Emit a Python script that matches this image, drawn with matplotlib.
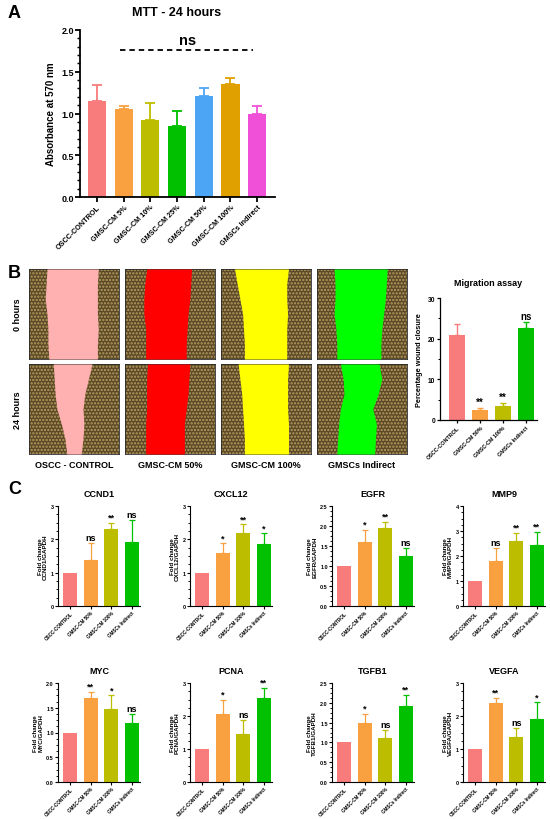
import numpy as np
import matplotlib
matplotlib.use('Agg')
import matplotlib.pyplot as plt
from matplotlib.patches import Rectangle
from matplotlib.ticker import AutoMinorLocator, FormatStrFormatter

plt.rcParams['font.family'] = ['Liberation Sans', 'DejaVu Sans']
plt.rcParams['font.weight'] = 'bold'
plt.rcParams['axes.labelweight'] = 'bold'
plt.rcParams['axes.titleweight'] = 'bold'
plt.rcParams['hatch.linewidth'] = 1.1

# ---- panel A : MTT
mtt_groups = ['OSCC-CONTROL', 'GMSC-CM 5%', 'GMSC-CM 10%', 'GMSC-CM 25%',
              'GMSC-CM 50%', 'GMSC-CM 100%', 'GMSCs Indirect']
mtt_mean = [1.15, 1.05, 0.92, 0.85, 1.21, 1.35, 1.00]
mtt_sd = [0.19, 0.04, 0.20, 0.18, 0.10, 0.08, 0.09]
mtt_colors = ['#F87C7C', '#F9A040', '#BDBD00', '#00C000', '#4DA6F5', '#E0A000', '#F050D8']

# ---- panel B : scratch images + migration
img_cols = ['OSCC - CONTROL', 'GMSC-CM 50%', 'GMSC-CM 100%', 'GMSCs Indirect']
img_rows = ['0 hours', '24 hours']
wound_colors = ['#FFB0B0', '#FF0000', '#FFFF00', '#00FF00']
# wound edges as fraction of image width, sampled top -> bottom
wound_left = [
    [[0.20, 0.19, 0.18, 0.20, 0.21, 0.21, 0.22],
     [0.24, 0.22, 0.21, 0.21, 0.23, 0.23, 0.23],
     [0.15, 0.18, 0.21, 0.24, 0.25, 0.26, 0.26],
     [0.19, 0.20, 0.20, 0.19, 0.21, 0.22, 0.22]],
    [[0.27, 0.28, 0.29, 0.31, 0.36, 0.40, 0.42],
     [0.25, 0.24, 0.24, 0.24, 0.23, 0.23, 0.23],
     [0.19, 0.21, 0.23, 0.24, 0.25, 0.26, 0.26],
     [0.26, 0.29, 0.30, 0.26, 0.24, 0.23, 0.22]],
]
wound_right = [
    [[0.77, 0.76, 0.76, 0.76, 0.77, 0.76, 0.76],
     [0.74, 0.73, 0.72, 0.70, 0.69, 0.68, 0.68],
     [0.75, 0.73, 0.73, 0.74, 0.73, 0.73, 0.73],
     [0.78, 0.77, 0.76, 0.74, 0.72, 0.71, 0.71]],
    [[0.70, 0.66, 0.62, 0.60, 0.61, 0.60, 0.58],
     [0.72, 0.71, 0.70, 0.68, 0.66, 0.66, 0.66],
     [0.75, 0.74, 0.74, 0.74, 0.75, 0.75, 0.75],
     [0.69, 0.72, 0.68, 0.62, 0.66, 0.65, 0.64]],
]

mig_groups = ['OSCC-CONTROL', 'GMSC-CM 50%', 'GMSC-CM 100%', 'GMSCs Indirect']
mig_mean = [21.0, 2.4, 3.5, 22.6]
mig_sd = [2.5, 0.6, 0.7, 1.6]
mig_sig = ['', '**', '**', 'ns']
four_colors = ['#F87C7C', '#F9A040', '#BDBD00', '#00C000']

# ---- panel C : qPCR
genes = ['CCND1', 'CXCL12', 'EGFR', 'MMP9', 'MYC', 'PCNA', 'TGFB1', 'VEGFA']
gene_mean = [[1.0, 1.38, 2.30, 1.92],
             [1.0, 1.60, 2.20, 1.85],
             [1.0, 1.60, 1.95, 1.25],
             [1.0, 1.80, 2.60, 2.45],
             [1.0, 1.70, 1.48, 1.20],
             [1.0, 2.05, 1.45, 2.55],
             [1.0, 1.48, 1.10, 1.92],
             [1.0, 2.40, 1.35, 1.90]]
gene_sd = [[0.0, 0.52, 0.20, 0.66],
           [0.0, 0.28, 0.25, 0.33],
           [0.0, 0.30, 0.15, 0.20],
           [0.0, 0.52, 0.32, 0.52],
           [0.0, 0.12, 0.27, 0.18],
           [0.0, 0.45, 0.43, 0.30],
           [0.0, 0.24, 0.22, 0.28],
           [0.0, 0.15, 0.30, 0.52]]
gene_sig = [['', 'ns', '**', 'ns'],
            ['', '*', '**', '*'],
            ['', '*', '**', 'ns'],
            ['', 'ns', '**', '**'],
            ['', '**', '*', 'ns'],
            ['', '*', 'ns', '**'],
            ['', '*', 'ns', '**'],
            ['', '**', 'ns', '*']]
gene_ymax = [3, 3, 2.5, 4, 2.0, 3, 2.5, 3]
gene_ystep = [1, 1, 0.5, 1, 0.5, 1, 0.5, 1]

W, H = 550, 820
fig = plt.figure(figsize=(W / 100, H / 100), dpi=100)


def box(l, t, r, b):
    return [l / W, 1 - b / H, (r - l) / W, (b - t) / H]


def style_bar_axes(ax, lw, tick_len, label_size):
    for s in ['top', 'right']:
        ax.spines[s].set_visible(False)
    ax.spines['left'].set_linewidth(lw)
    ax.spines['bottom'].set_linewidth(lw)
    ax.tick_params(width=lw, length=tick_len, labelsize=label_size, pad=1)
    ax.tick_params(which='minor', width=lw * 0.8, length=tick_len * 0.55)
    ax.yaxis.set_minor_locator(AutoMinorLocator(5))


def draw_bars(ax, means, sds, colors, width, elw, cap):
    x = np.arange(len(means))
    ax.bar(x, means, width=width, color=colors, zorder=2)
    for i in range(len(means)):
        if sds[i] > 0:
            ax.errorbar(x[i], means[i], yerr=[[0], [sds[i]]], fmt='none',
                        ecolor=colors[i], elinewidth=elw, capsize=cap,
                        capthick=elw, zorder=1)
    return x


# ================= A
fig.text(8 / W, 1 - 14 / H, 'A', fontsize=13, fontweight='bold', va='center')
fig.text(177 / W, 1 - 13 / H, 'MTT - 24 hours', fontsize=9, ha='center', va='center')
axA = fig.add_axes(box(80, 31, 275, 198))
x = draw_bars(axA, mtt_mean, mtt_sd, mtt_colors, 0.68, 1.3, 3.5)
axA.set_xlim(-0.64, 6.67)
axA.set_ylim(0, 2.0)
axA.set_yticks(np.arange(0, 2.01, 0.5))
axA.yaxis.set_major_formatter(FormatStrFormatter('%.1f'))
style_bar_axes(axA, 1.3, 3.5, 6.5)
axA.set_xticks(x)
axA.set_xticklabels(mtt_groups, rotation=45, ha='right', rotation_mode='anchor', fontsize=5.2)
axA.set_ylabel('Absorbance at 570 nm', fontsize=7, labelpad=4)
axA.plot([0.86, 5.85], [1.76, 1.76], color='black', lw=1.3, ls=(0, (3, 2.2)))
axA.text(3.4, 1.80, 'ns', fontsize=10.5, ha='center', va='bottom')

# ================= B images
fig.text(8 / W, 1 - 273 / H, 'B', fontsize=13, fontweight='bold', va='center')
col_left = [29, 125, 221, 317]
row_top = [270, 365]
for r in range(2):
    for c in range(4):
        ax = fig.add_axes(box(col_left[c], row_top[r], col_left[c] + 90, row_top[r] + 90))
        ax.set_xlim(0, 1)
        ax.set_ylim(1, 0)
        ax.set_facecolor('#5a4826')
        ax.add_patch(Rectangle((0, 0), 1, 1, facecolor='none', edgecolor='#b99e60',
                               hatch='.....', lw=0))
        ys = np.linspace(0, 1, len(wound_left[r][c]))
        ax.fill_betweenx(ys, wound_left[r][c], wound_right[r][c],
                         color=wound_colors[c], lw=0, zorder=3)
        ax.set_xticks([])
        ax.set_yticks([])
        for s in ax.spines.values():
            s.set_color('#2a2a2a')
            s.set_linewidth(0.6)
        if c == 0:
            ax.set_ylabel(img_rows[r], fontsize=6.5, labelpad=5)
        if r == 1:
            ax.set_xlabel(img_cols[c], fontsize=6.5, labelpad=4)

# ================= B migration
axM = fig.add_axes(box(440, 299, 537, 421))
x = draw_bars(axM, mig_mean, mig_sd, four_colors, 0.68, 1.0, 2.5)
axM.set_xlim(-0.74, 3.48)
axM.set_ylim(0, 30)
axM.set_yticks([0, 10, 20, 30])
style_bar_axes(axM, 0.9, 2.5, 4.8)
axM.yaxis.set_minor_locator(AutoMinorLocator(2))
axM.set_xticks(x)
axM.set_xticklabels(mig_groups, rotation=45, ha='right', rotation_mode='anchor', fontsize=3.9)
axM.set_ylabel('Percentage wound closure', fontsize=5.3, labelpad=3)
axM.set_title('Migration assay', fontsize=6.5, pad=9)
for i in range(4):
    if mig_sig[i]:
        axM.text(x[i], mig_mean[i] + mig_sd[i] + 0.2, mig_sig[i],
                 fontsize=7, ha='center', va='bottom')

# ================= C
fig.text(8 / W, 1 - 490 / H, 'C', fontsize=13, fontweight='bold', va='center')
c_left = [58, 190, 332, 463]
c_rows = [(507, 607), (684, 783)]
for g in range(8):
    r, c = divmod(g, 4)
    ax = fig.add_axes(box(c_left[c], c_rows[r][0], c_left[c] + 82, c_rows[r][1]))
    x = draw_bars(ax, gene_mean[g], gene_sd[g], four_colors, 0.68, 0.9, 2.2)
    ax.set_xlim(-0.6, 3.4)
    ax.set_ylim(0, gene_ymax[g])
    ax.set_yticks(np.arange(0, gene_ymax[g] + 0.01, gene_ystep[g]))
    if gene_ystep[g] < 1:
        ax.yaxis.set_major_formatter(FormatStrFormatter('%.1f'))
    style_bar_axes(ax, 0.8, 2.0, 4.0)
    ax.yaxis.set_minor_locator(AutoMinorLocator(4))
    ax.set_xticks(x)
    ax.set_xticklabels(mig_groups, rotation=45, ha='right', rotation_mode='anchor', fontsize=3.3)
    ax.set_ylabel('Fold change\n' + genes[g] + '/GAPDH', fontsize=4.5, labelpad=2,
                  linespacing=1.0)
    ax.set_title(genes[g], fontsize=6.5, pad=7)
    for i in range(4):
        if gene_sig[g][i]:
            off = gene_ymax[g] * 0.01
            ax.text(x[i], gene_mean[g][i] + gene_sd[g][i] + off, gene_sig[g][i],
                    fontsize=6.5, ha='center', va='bottom')

fig.savefig('out.png', dpi=100, facecolor='white')
